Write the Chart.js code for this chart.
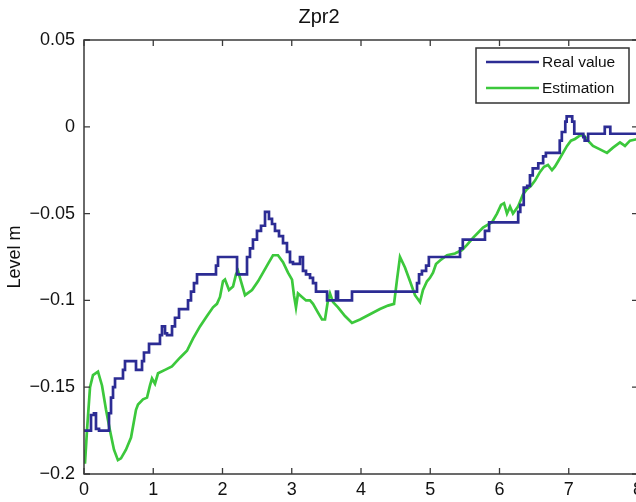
<!DOCTYPE html>
<html>
<head>
<meta charset="utf-8">
<title>Zpr2</title>
<script src="https://cdn.jsdelivr.net/npm/chart.js@4.4.1/dist/chart.umd.min.js"></script>
<style>
  html, body { margin: 0; padding: 0; background: #ffffff; overflow: hidden; }
  #wrap { width: 650px; height: 502px; }
</style>
</head>
<body>
<div id="wrap"><canvas id="chart" width="650" height="502"></canvas></div>
<script>
// Time axis (x) and level (m) of the measured value
const realT = [0.000,0.101,0.144,0.173,0.217,0.231,0.361,0.390,0.419,0.448,0.477,0.563,0.592,0.621,0.751,0.794,0.838,0.866,0.939,0.996,
  1.097,1.126,1.170,1.199,1.271,1.314,1.372,1.415,1.502,1.545,1.588,1.632,1.675,1.906,1.935,1.993,2.210,2.267,2.354,2.397,
  2.440,2.498,2.556,2.614,2.671,2.715,2.758,2.816,2.874,2.931,2.975,3.018,3.119,3.162,3.206,3.264,3.307,3.350,3.380,3.510,
  3.567,3.639,3.668,3.711,3.870,3.913,4.809,4.838,4.880,4.940,4.980,5.040,5.430,5.470,5.500,5.790,5.850,5.890,6.270,6.300,
  6.350,6.400,6.440,6.480,6.560,6.630,6.670,6.760,6.870,6.900,6.950,6.970,6.990,7.050,7.080,7.120,7.210,7.230,7.280,7.290,
  7.520,7.550,7.600,7.620,8.000];
const realLevel = [-0.175,-0.175,-0.166,-0.165,-0.174,-0.175,-0.175,-0.165,-0.156,-0.150,-0.145,-0.145,-0.140,-0.135,-0.135,-0.140,-0.140,-0.135,-0.130,-0.125,
  -0.125,-0.120,-0.115,-0.119,-0.120,-0.115,-0.110,-0.105,-0.105,-0.100,-0.095,-0.090,-0.085,-0.085,-0.080,-0.075,-0.075,-0.085,-0.085,-0.075,
  -0.070,-0.065,-0.060,-0.057,-0.049,-0.053,-0.056,-0.060,-0.063,-0.067,-0.072,-0.078,-0.079,-0.075,-0.083,-0.085,-0.087,-0.090,-0.095,-0.095,
  -0.100,-0.100,-0.095,-0.100,-0.100,-0.095,-0.095,-0.090,-0.085,-0.083,-0.080,-0.075,-0.075,-0.070,-0.065,-0.065,-0.060,-0.055,-0.055,-0.049,
  -0.045,-0.035,-0.034,-0.028,-0.024,-0.021,-0.017,-0.015,-0.015,-0.008,-0.003,0.003,0.006,0.006,0.003,-0.004,-0.004,-0.006,-0.008,-0.004,
  -0.004,0.000,0.000,-0.004,-0.004];

// Time axis (x) and level (m) of the estimate
const estT = [0.000,0.014,0.043,0.087,0.130,0.202,0.260,0.318,0.375,0.433,0.490,0.534,0.606,0.679,0.751,0.780,0.852,0.910,0.953,0.982,
  1.025,1.069,1.170,1.270,1.386,1.487,1.574,1.675,1.776,1.863,1.920,1.964,2.007,2.036,2.094,2.152,2.195,2.224,2.267,2.325,
  2.426,2.513,2.585,2.657,2.729,2.801,2.874,2.946,3.004,3.032,3.061,3.090,3.148,3.206,3.264,3.307,3.379,3.437,3.480,3.523,
  3.552,3.596,3.668,3.769,3.870,3.986,4.130,4.274,4.390,4.477,4.520,4.563,4.635,4.708,4.780,4.852,4.895,4.953,4.996,5.040,
  5.083,5.141,5.242,5.357,5.458,5.531,5.617,5.690,5.762,5.892,5.964,6.022,6.065,6.108,6.152,6.195,6.267,6.339,6.397,6.455,
  6.513,6.585,6.643,6.700,6.758,6.800,6.845,6.917,6.975,7.032,7.090,7.162,7.220,7.278,7.350,7.451,7.552,7.639,7.740,7.812,
  7.884,8.000];
const estLevel = [-0.186,-0.194,-0.175,-0.150,-0.143,-0.141,-0.149,-0.163,-0.175,-0.186,-0.192,-0.191,-0.186,-0.179,-0.163,-0.160,-0.157,-0.156,-0.149,-0.145,
  -0.148,-0.142,-0.140,-0.138,-0.133,-0.129,-0.122,-0.115,-0.109,-0.104,-0.102,-0.098,-0.089,-0.088,-0.094,-0.092,-0.085,-0.083,-0.089,-0.097,
  -0.094,-0.089,-0.084,-0.079,-0.074,-0.074,-0.078,-0.084,-0.088,-0.097,-0.104,-0.096,-0.098,-0.100,-0.100,-0.102,-0.107,-0.111,-0.111,-0.100,
  -0.096,-0.101,-0.104,-0.109,-0.113,-0.111,-0.108,-0.105,-0.103,-0.102,-0.088,-0.075,-0.081,-0.089,-0.097,-0.101,-0.094,-0.089,-0.087,-0.084,
  -0.079,-0.077,-0.074,-0.073,-0.071,-0.068,-0.064,-0.061,-0.058,-0.055,-0.050,-0.045,-0.044,-0.050,-0.046,-0.050,-0.046,-0.039,-0.036,-0.034,
  -0.031,-0.026,-0.023,-0.022,-0.025,-0.023,-0.020,-0.015,-0.011,-0.008,-0.007,-0.005,-0.005,-0.008,-0.011,-0.013,-0.015,-0.012,-0.009,-0.011,
  -0.008,-0.007];

// Axis ticks
const xTickValues = [0, 1, 2, 3, 4, 5, 6, 7, 8];
const yTickValues = [-0.2, -0.15, -0.1, -0.05, 0, 0.05];
const yTickLabels = ['\u22120.2', '\u22120.15', '\u22120.1', '\u22120.05', '0', '0.05'];

const FONT = '"Liberation Sans", Arial, Helvetica, sans-serif';
const BLUE = '#2c2c94';
const GREEN = '#3cc83c';
const AXIS = '#3a3a3a';

const toPoints = (xs, ys) => xs.map((x, i) => ({ x: x, y: ys[i] }));

// Boxed axes with inward tick marks on all four sides, and a boxed legend
const framePlugin = {
  id: 'frame',
  afterDatasetsDraw(chart) {
    const { ctx, chartArea: a, scales } = chart;
    const len = 6;
    ctx.save();
    ctx.strokeStyle = AXIS;
    ctx.lineWidth = 1.5;
    ctx.strokeRect(a.left, a.top, a.right - a.left, a.bottom - a.top);
    ctx.lineWidth = 1.3;
    ctx.beginPath();
    scales.x.ticks.forEach(t => {
      const px = scales.x.getPixelForValue(t.value);
      ctx.moveTo(px, a.bottom); ctx.lineTo(px, a.bottom - len);
      ctx.moveTo(px, a.top); ctx.lineTo(px, a.top + len);
    });
    scales.y.ticks.forEach(t => {
      const py = scales.y.getPixelForValue(t.value);
      ctx.moveTo(a.left, py); ctx.lineTo(a.left + len, py);
      ctx.moveTo(a.right, py); ctx.lineTo(a.right - len, py);
    });
    ctx.stroke();

    // legend box in the upper right of the plot
    const bx = a.right - 162, by = a.top + 8, bw = 153, bh = 55;
    ctx.fillStyle = '#ffffff';
    ctx.fillRect(bx, by, bw, bh);
    ctx.lineWidth = 1.5;
    ctx.strokeStyle = '#333333';
    ctx.strokeRect(bx, by, bw, bh);
    ctx.font = '15.5px ' + FONT;
    ctx.textBaseline = 'middle';
    ctx.textAlign = 'left';
    chart.data.datasets.forEach((ds, i) => {
      const y = by + 14 + i * 26;
      ctx.strokeStyle = ds.borderColor;
      ctx.lineWidth = 2.5;
      ctx.beginPath();
      ctx.moveTo(bx + 10, y);
      ctx.lineTo(bx + 63, y);
      ctx.stroke();
      ctx.fillStyle = '#111111';
      ctx.fillText(ds.label, bx + 66, y + 1);
    });
    ctx.restore();
  }
};

new Chart(document.getElementById('chart'), {
  type: 'line',
  data: {
    datasets: [
      { label: 'Real value', data: toPoints(realT, realLevel), borderColor: BLUE, borderWidth: 2.7,
        pointRadius: 0, stepped: 'after', fill: false },
      { label: 'Estimation', data: toPoints(estT, estLevel), borderColor: GREEN, borderWidth: 2.7,
        pointRadius: 0, tension: 0, fill: false }
    ]
  },
  options: {
    responsive: false,
    animation: false,
    devicePixelRatio: 1,
    layout: { padding: { left: 0, right: 12, top: 0, bottom: 0 } },
    plugins: {
      legend: { display: false },
      tooltip: { enabled: false },
      title: {
        display: true, text: 'Zpr2', color: '#111111',
        font: { family: FONT, size: 20, weight: 'normal' },
        padding: { top: 5, bottom: 11 }
      }
    },
    scales: {
      x: {
        type: 'linear', min: 0, max: 8,
        afterBuildTicks: s => { s.ticks = xTickValues.map(v => ({ value: v })); },
        ticks: { color: '#111111', font: { family: FONT, size: 18 }, padding: 5, maxRotation: 0,
                 callback: v => String(v) },
        grid: { display: false, drawTicks: false },
        border: { display: false },
        afterFit: s => { s.height = 28; }
      },
      y: {
        type: 'linear', min: -0.2, max: 0.05,
        afterBuildTicks: s => { s.ticks = yTickValues.map(v => ({ value: v })); },
        ticks: {
          color: '#111111', font: { family: FONT, size: 18 }, padding: 9,
          callback: v => {
            const i = yTickValues.findIndex(t => Math.abs(t - v) < 1e-9);
            return i >= 0 ? yTickLabels[i] : '';
          }
        },
        grid: { display: false, drawTicks: false },
        border: { display: false },
        title: { display: true, text: 'Level m', color: '#111111',
                 font: { family: FONT, size: 18 }, padding: { top: 4, bottom: 0 } },
        afterFit: s => { s.width = 84; }
      }
    }
  },
  plugins: [framePlugin]
});
</script>
</body>
</html>
